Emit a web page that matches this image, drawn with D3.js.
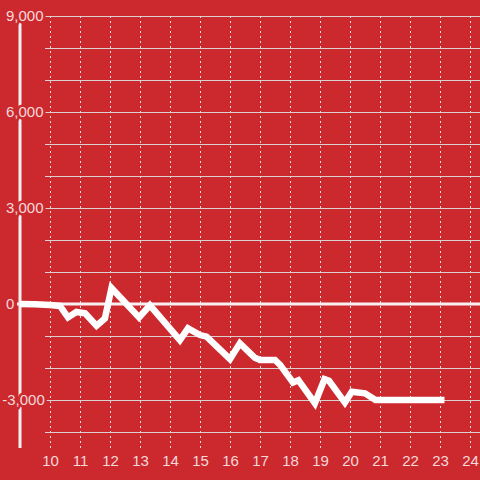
<!DOCTYPE html>
<html>
<head>
<meta charset="utf-8">
<script src="https://cdn.jsdelivr.net/npm/d3@7"></script>
<style>
  html, body { margin: 0; padding: 0; background: #cc292f; }
  svg { display: block; }
  text { font-family: "Liberation Sans", Arial, sans-serif; font-size: 15px; fill: #f4d9da; }
</style>
</head>
<body>
<div id="chart"></div>
<script>
// hour of day vs running balance
var hours = [9, 9.5, 10, 10.33, 10.6, 10.88, 11.17, 11.55, 11.83, 12.05, 12.97, 13.33,
             14.33, 14.6, 15.0, 15.22, 16.0, 16.33, 16.83, 17.0, 17.5, 17.67, 18.1, 18.28,
             18.83, 19.15, 19.3, 19.83, 20.06, 20.5, 20.85, 23.15];
var values = [0, -10, -30, -60, -420, -250, -290, -680, -450, 500, -420, -40,
              -1130, -760, -970, -1020, -1720, -1230, -1680, -1750, -1750, -1900, -2450, -2380,
              -3100, -2350, -2400, -3080, -2740, -2790, -3000, -3000];

var xTicks = [10, 11, 12, 13, 14, 15, 16, 17, 18, 19, 20, 21, 22, 23, 24];
var yLabelTicks = [-3000, 0, 3000, 6000, 9000];
var yGridTicks = d3.range(-4000, 9001, 1000);

var width = 480, height = 480;
var bg = "#cc292f";

var svg = d3.select("#chart").append("svg")
    .attr("width", width)
    .attr("height", height);

var x = d3.scaleLinear().domain([9, 9 + 460 / 30]).range([20, 480]),
    y = d3.scaleLinear().domain([-4500, 9000]).range([448, 16]);

// horizontal grid
svg.append("g").selectAll("line")
    .data(yGridTicks)
  .enter().append("line")
    .attr("x1", 45)
    .attr("x2", width)
    .attr("y1", function(d) { return Math.round(y(d)) + 0.5; })
    .attr("y2", function(d) { return Math.round(y(d)) + 0.5; })
    .attr("stroke", "#dccfd0")
    .attr("stroke-width", 1);

// x axis with dotted vertical grid
var xAxis = svg.append("g")
    .attr("transform", "translate(0," + y(-4500) + ")")
    .call(d3.axisBottom(x)
      .tickValues(xTicks)
      .tickSize(-(y(-4500) - y(9000)))
      .tickPadding(7)
      .tickFormat(d3.format("d")));

xAxis.select(".domain").remove();
xAxis.selectAll(".tick line")
    .attr("stroke", "#eadfe0")
    .attr("stroke-dasharray", "2,3");
xAxis.selectAll(".tick text")
    .attr("fill", "#f4d9da")
    .style("font-size", "15px");

// y axis line
svg.append("line")
    .attr("x1", 20).attr("x2", 20)
    .attr("y1", y(9000)).attr("y2", y(-4500))
    .attr("stroke", "#f8f0f0")
    .attr("stroke-width", 3);

// zero line
svg.append("line")
    .attr("x1", 17).attr("x2", width)
    .attr("y1", y(0)).attr("y2", y(0))
    .attr("stroke", "#f8f0f0")
    .attr("stroke-width", 3);

var data = hours.map(function(h, i) { return { hour: h, value: values[i] }; });

var line = d3.line()
    .x(function(d) { return x(d.hour); })
    .y(function(d) { return y(d.value); });

svg.append("path")
    .datum(data)
    .attr("d", line)
    .attr("fill", "none")
    .attr("stroke", "#ffffff")
    .attr("stroke-width", 6.5)
    .attr("stroke-linejoin", "miter")
    .attr("stroke-linecap", "butt");

// y labels with a halo that cuts the axis line
svg.append("g").selectAll("text")
    .data(yLabelTicks)
  .enter().append("text")
    .attr("x", 6)
    .attr("dx", function(d) { return d < 0 ? "-0.25em" : 0; })
    .attr("y", function(d) { return y(d); })
    .attr("dy", "0.36em")
    .attr("stroke", bg)
    .attr("stroke-width", 5)
    .attr("paint-order", "stroke")
    .text(function(d) { return d3.format(",")(d).replace("−", "-"); });
</script>
</body>
</html>
